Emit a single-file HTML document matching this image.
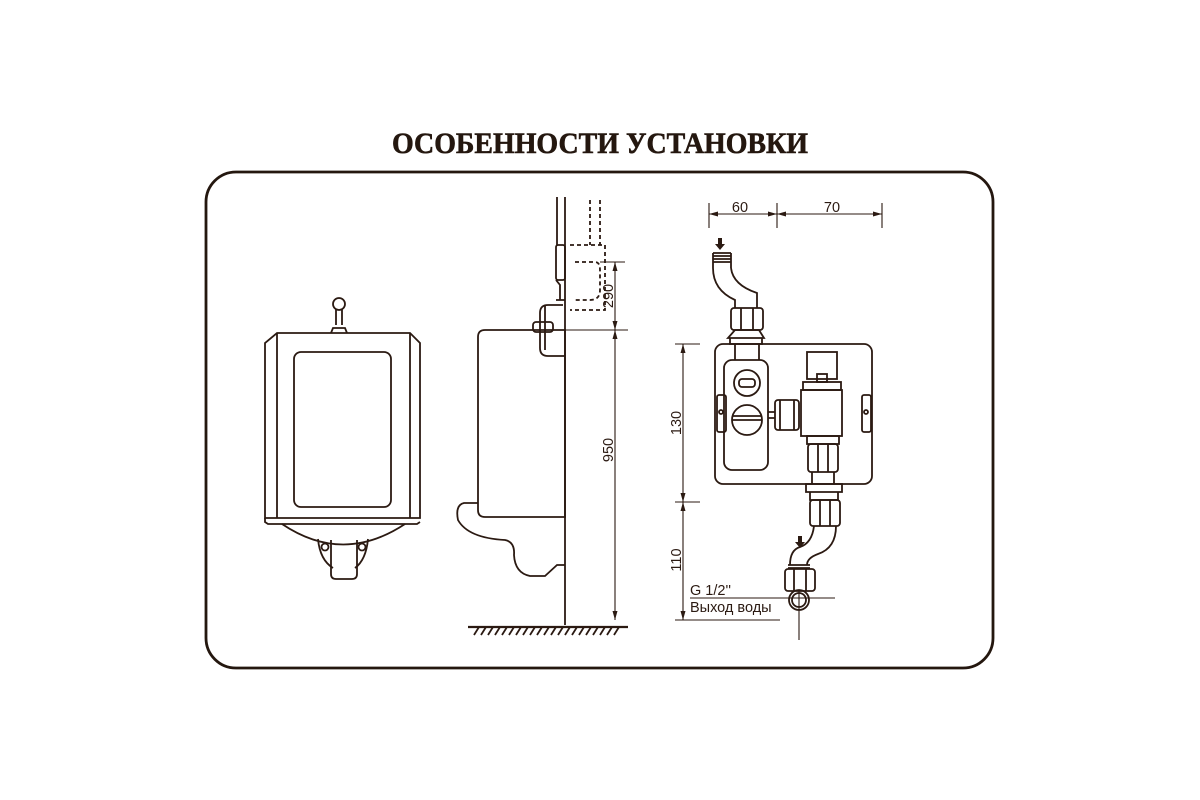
<!DOCTYPE html>
<html><head><meta charset="utf-8"><style>
html,body{margin:0;padding:0;background:#fff}
svg{display:block}
</style></head><body>
<svg width="1200" height="800" viewBox="0 0 1200 800" xmlns="http://www.w3.org/2000/svg">
<rect width="1200" height="800" fill="#fff"/>
<text x="392" y="153" font-family="Liberation Serif, serif" font-weight="bold" font-size="30" fill="#24170f" stroke="#24170f" stroke-width="0.6" textLength="416" lengthAdjust="spacingAndGlyphs">ОСОБЕННОСТИ УСТАНОВКИ</text>
<rect x="206" y="172" width="787" height="496" rx="30" fill="none" stroke="#24170f" stroke-width="2.8"/>

<g fill="none" stroke="#2b1a12" stroke-width="1.8">
<!-- front urinal -->
<circle cx="339" cy="304" r="6"/>
<path d="M336 309 V325 M342 309 V325 M331 333 L333 328 H345 L347 333"/>
<path d="M277 333 H410 L420 343 V518 H265 V343 Z"/>
<path d="M277 333 V518 M410 333 V518"/>
<rect x="294" y="352" width="97" height="155" rx="7"/>
<path d="M265 518 V522 L268 524 H417 L420 522"/>
<path d="M282 524 Q343 565 405 524"/>
<path d="M318 539 Q320 560 333 568 M368 539 Q366 560 355 568"/>
<path d="M331 540 V574 Q331 579 336 579 H352 Q357 579 357 574 V540"/>
<circle cx="325" cy="547" r="3.5"/><circle cx="362" cy="547" r="3.5"/>

<!-- side view -->
<path d="M565 197 V625"/>
<path d="M557 197 V245"/>
<rect x="556" y="245" width="9" height="35" rx="2"/>
<path d="M556 280 L560 285 V300 M556 300 H565"/>
<path d="M563 305 H548 Q540 305 540 313 V348 Q540 356 548 356 H565"/>
<path d="M545 305 Q545 345 545 350"/>
<rect x="533" y="322" width="20" height="10" rx="3"/>
<path d="M485 330 H565 V517 H485 Q478 517 478 510 V337 Q478 330 485 330 Z"/>
<path d="M478 503 H464 Q455 505 458 520 Q468 538 505 540 Q515 542 514 555 Q515 573 530 576 H545 L557 565 H565"/>
<g stroke-dasharray="4 3">
<path d="M590 200 V245 M600 200 V245"/>
<path d="M570 245 H605 V310 H570"/>
<path d="M575 262 H595 Q600 262 600 270 V290 Q600 300 590 300 H575"/>
</g>
<path d="M468 627 H628" stroke-width="2.2"/>
<path d="M474 635 l5 -8 M481 635 l5 -8 M488 635 l5 -8 M495 635 l5 -8 M502 635 l5 -8 M509 635 l5 -8 M516 635 l5 -8 M523 635 l5 -8 M530 635 l5 -8 M537 635 l5 -8 M544 635 l5 -8 M551 635 l5 -8 M558 635 l5 -8 M565 635 l5 -8 M572 635 l5 -8 M579 635 l5 -8 M586 635 l5 -8 M593 635 l5 -8 M600 635 l5 -8 M607 635 l5 -8 M614 635 l5 -8"/>
<path d="M615 262 V620 M600 262 H625 M565 330 H628" stroke-width="1.1"/>

<!-- right unit -->
<path d="M709 203 V228 M777 203 V228 M882 203 V228 M709 214 H882" stroke-width="1.1"/>
<path d="M713 253 H731 M713 256 H731 M713 259 H731 M713 262 H731 M713 253 V268 M731 253 V268"/>
<path d="M713 268 Q713 290 735 300 V308 M731 268 Q733 285 757 293 V308"/>
<rect x="731" y="308" width="32" height="22" rx="3"/>
<path d="M741 308 V330 M753 308 V330"/>
<path d="M735 330 H759 L764 338 H728 Z M730 338 H762 V344 H730 Z"/>
<path d="M735 344 V360 M759 344 V360"/>
<rect x="715" y="344" width="157" height="140" rx="8"/>
<rect x="724" y="360" width="44" height="110" rx="8"/>
<circle cx="747" cy="383" r="13"/><rect x="739" y="379" width="16" height="8" rx="3"/>
<circle cx="747" cy="420" r="15"/><path d="M732 420 H762 M733 416 H761"/>
<rect x="717" y="395" width="9" height="37" rx="2"/><circle cx="721" cy="412" r="2"/>
<rect x="862" y="395" width="9" height="37" rx="2"/><circle cx="866" cy="412" r="2"/>
<rect x="807" y="352" width="30" height="27"/>
<rect x="817" y="374" width="10" height="8"/>
<rect x="803" y="382" width="38" height="8"/>
<rect x="801" y="390" width="41" height="46"/>
<path d="M768 412 H775 M768 418 H775"/>
<rect x="775" y="400" width="24" height="30" rx="3"/>
<path d="M780 400 V430 M794 400 V430"/>
<rect x="807" y="436" width="32" height="8"/>
<rect x="808" y="444" width="30" height="28" rx="3"/>
<path d="M818 444 V472 M828 444 V472"/>
<path d="M812 472 V484 M834 472 V484"/>
<path d="M806 484 H842 V492 H806 Z M810 492 H838 V500 H810 Z"/>
<rect x="810" y="500" width="30" height="26" rx="3"/>
<path d="M820 500 V526 M830 500 V526"/>
<path d="M814 526 Q812 543 800 547 Q790 550 790 565 M836 526 Q836 548 818 554 Q807 558 807 565"/>
<path d="M788 565 H810 M788 568 H810"/>
<rect x="785" y="569" width="30" height="22" rx="3"/>
<path d="M794 569 V591 M806 569 V591"/>
<circle cx="799" cy="600" r="10"/><circle cx="799" cy="600" r="7"/>
<path d="M799 590 V640 M690 598 H835 M683 344 V620 M675 344 H700 M675 502 H700 M675 620 H780" stroke-width="1.1"/>
</g>
<g fill="#2b1a12">
<path d="M615 262 l-2.5 9 h5 Z M615 330 l-2.5 -9 h5 Z M615 330 l-2.5 9 h5 Z M615 620 l-2.5 -9 h5 Z"/>
<path d="M709 214 l9 -2.5 v5 Z M777 214 l-9 -2.5 v5 Z M777 214 l9 -2.5 v5 Z M882 214 l-9 -2.5 v5 Z"/>
<path d="M683 344 l-2.5 9 h5 Z M683 502 l-2.5 -9 h5 Z M683 502 l-2.5 9 h5 Z M683 620 l-2.5 -9 h5 Z"/>
<path d="M718 238 h4 v6 h3 l-5 6 l-5 -6 h3 Z"/>
<path d="M798 536 h4 v6 h3 l-5 6 l-5 -6 h3 Z"/>
</g>
<g font-family="Liberation Sans, sans-serif" font-size="14.5" fill="#2b1a12">
<text x="740" y="212" text-anchor="middle">60</text>
<text x="832" y="212" text-anchor="middle">70</text>
<text transform="translate(613,296) rotate(-90)" text-anchor="middle">290</text>
<text transform="translate(613,450) rotate(-90)" text-anchor="middle">950</text>
<text transform="translate(681,423) rotate(-90)" text-anchor="middle">130</text>
<text transform="translate(681,560) rotate(-90)" text-anchor="middle">110</text>
<text x="690" y="595">G 1/2''</text>
<text x="690" y="612">Выход воды</text>
</g>
</svg>
</body></html>
